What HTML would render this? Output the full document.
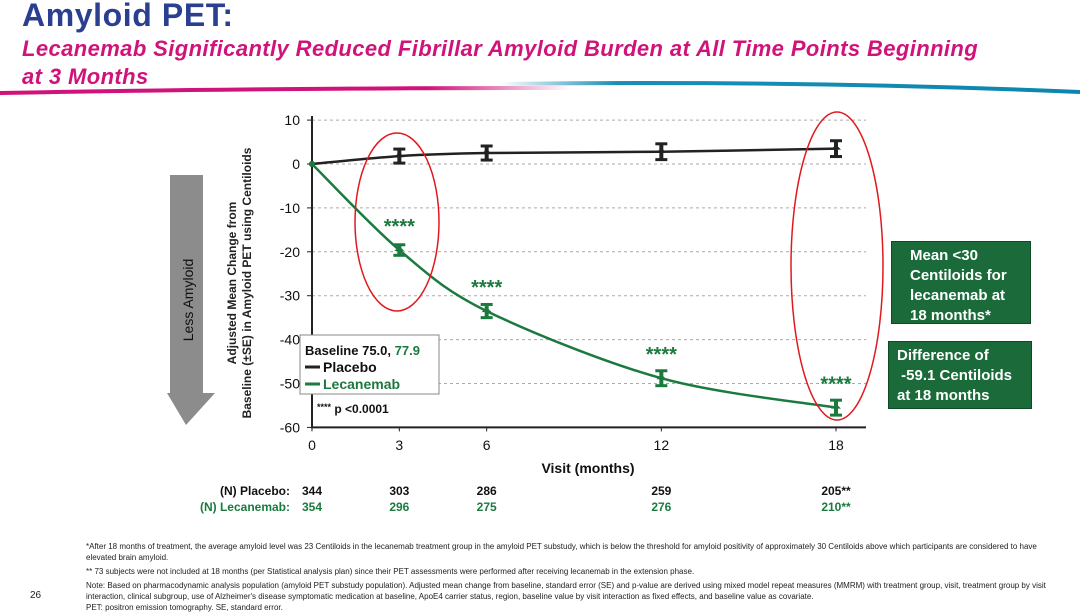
<!DOCTYPE html>
<html><head><meta charset="utf-8">
<style>
html,body{margin:0;padding:0;background:#fff;}
body{width:1080px;height:613px;position:relative;overflow:hidden;font-family:"Liberation Sans",Arial,sans-serif;}
.abs{position:absolute;}
.title{left:22px;top:-3px;font-size:32px;font-weight:bold;color:#2a3f8f;letter-spacing:0.6px;}
.sub{left:22px;top:35px;font-size:22px;font-weight:bold;font-style:italic;color:#d0137a;line-height:28px;letter-spacing:0.4px;white-space:nowrap;}
.box{background:#1b6b3a;color:#fff;font-weight:bold;font-size:15px;line-height:20px;border:1px solid #0f4a26;}
.foot{font-size:8px;color:#222;line-height:11px;}
</style></head><body>
<div class="abs title">Amyloid PET:</div>
<div class="abs sub">Lecanemab Significantly Reduced Fibrillar Amyloid Burden at All Time Points Beginning<br>at 3 Months</div>
<svg class="abs" style="left:0;top:0" width="1080" height="613">
<defs>
<linearGradient id="pg" x1="0" x2="1"><stop offset="0" stop-color="#d0137a"/><stop offset="0.75" stop-color="#d0137a"/><stop offset="1" stop-color="#d0137a" stop-opacity="0"/></linearGradient>
<linearGradient id="bg" x1="0" x2="1"><stop offset="0" stop-color="#1a8fb5" stop-opacity="0"/><stop offset="0.2" stop-color="#1a8fb5"/><stop offset="1" stop-color="#0a86b0"/></linearGradient>
</defs>
<path d="M0,93 Q250,88 570,88" stroke="url(#pg)" stroke-width="4" fill="none"/>
<path d="M500,84 Q800,80 1080,92" stroke="url(#bg)" stroke-width="4" fill="none"/>
<g>
<polygon points="170,175 203,175 203,393 215,393 186,425 167,393 170,393" fill="#8c8c8c"/>
<text transform="translate(193,300) rotate(-90)" text-anchor="middle" font-size="14" fill="#111">Less Amyloid</text>
</g>
<text transform="translate(236,283) rotate(-90)" text-anchor="middle" font-size="12" font-weight="bold" fill="#222"><tspan x="0" dy="0">Adjusted Mean Change from</tspan><tspan x="0" dy="15">Baseline (±SE) in Amyloid PET using Centiloids</tspan></text>
<g id="grid"></g><g id="axes"></g><g id="series"></g>
<ellipse cx="397" cy="222" rx="42" ry="89" stroke="#e0191e" stroke-width="1.5" fill="none"/>
<ellipse cx="837" cy="266" rx="46" ry="154" stroke="#e0191e" stroke-width="1.5" fill="none"/>
<g>
<rect x="300" y="335" width="139" height="59" fill="#fff" stroke="#888" stroke-width="1"/>
<text x="305" y="355" font-size="13" font-weight="bold" fill="#111">Baseline 75.0, <tspan fill="#1b7a3e">77.9</tspan></text>
<line x1="305" y1="367" x2="320" y2="367" stroke="#222" stroke-width="3"/>
<text x="323" y="372" font-size="14" font-weight="bold" fill="#111">Placebo</text>
<line x1="305" y1="384" x2="320" y2="384" stroke="#1b7a3e" stroke-width="3"/>
<text x="323" y="389" font-size="14" font-weight="bold" fill="#1b7a3e">Lecanemab</text>
</g>
<text x="317" y="413" font-size="12" font-weight="bold" fill="#111"><tspan font-size="9" dy="-3">****</tspan><tspan dy="3"> p &lt;0.0001</tspan></text>
<text x="588" y="473" text-anchor="middle" font-size="14" font-weight="bold" fill="#111">Visit (months)</text>
<g id="ntable" font-size="12" font-weight="bold"></g>
</svg>
<div class="abs box" style="left:891px;top:241px;width:120px;height:71px;padding:4px 0 6px 18px;">Mean &lt;30<br>Centiloids for<br>lecanemab at<br>18 months*</div>
<div class="abs box" style="left:888px;top:341px;width:134px;height:58px;padding:4px 0 4px 8px;">Difference of<br>&nbsp;-59.1 Centiloids<br>at 18 months</div>
<div class="abs foot" style="left:86px;top:541px;width:960px;">
*After 18 months of treatment, the average amyloid level was 23 Centiloids in the lecanemab treatment group in the amyloid PET substudy, which is below the threshold for amyloid positivity of approximately 30 Centiloids above which participants are considered to have elevated brain amyloid.<br>
<div style="margin-top:3px">** 73 subjects were not included at 18 months (per Statistical analysis plan) since their PET assessments were performed after receiving lecanemab in the extension phase.</div>
<div style="margin-top:3px">Note: Based on pharmacodynamic analysis population (amyloid PET substudy population). Adjusted mean change from baseline, standard error (SE) and p-value are derived using mixed model repeat measures (MMRM) with treatment group, visit, treatment group by visit interaction, clinical subgroup, use of Alzheimer's disease symptomatic medication at baseline, ApoE4 carrier status, region, baseline value by visit interaction as fixed effects, and baseline value as covariate.<br>PET: positron emission tomography. SE, standard error.</div>
</div>
<div class="abs" style="left:30px;top:590px;font-size:10px;color:#222">26</div>
<script>
const months=[0,3,6,12,18];
const placebo=[0,1.8,2.5,2.8,3.5];
const lecanemab=[0,-19.6,-33.5,-48.8,-55.5];
const placeboSE=[0,1.6,1.6,1.8,1.8];
const lecanemabSE=[0,1.2,1.5,1.7,1.7];
const yTicks=[10,0,-10,-20,-30,-40,-50,-60];
const nPlacebo=["344","303","286","259","205"];
const nLecanemab=["354","296","275","276","210"];
const NS="http://www.w3.org/2000/svg";
const X=m=>312+m*(524/18);
const Y=v=>164-v*4.39;
function mk(t,a,p){const e=document.createElementNS(NS,t);for(const k in a)e.setAttribute(k,a[k]);(p||document.getElementById('series')).appendChild(e);return e;}
const grid=document.getElementById('grid'),axes=document.getElementById('axes');
yTicks.forEach(v=>{
 if(v>-60){const g=mk('line',{x1:312,x2:866,y1:Y(v),y2:Y(v),stroke:'#aaa','stroke-dasharray':'3,3'},grid);
 
 }
 mk('line',{x1:307,x2:312,y1:Y(v),y2:Y(v),stroke:'#222'},axes);
 const t=mk('text',{x:300,y:Y(v)+5,'text-anchor':'end','font-size':14,fill:'#111'},axes);t.textContent=v;
 
 
});
mk('line',{x1:312,x2:312,y1:116,y2:Y(-60),stroke:'#222','stroke-width':2},axes);
mk('line',{x1:311,x2:866,y1:Y(-60),y2:Y(-60),stroke:'#222','stroke-width':2},axes);
months.forEach((m,i)=>{
 mk('line',{x1:X(m),x2:X(m),y1:Y(-60),y2:Y(-60)+4,stroke:'#222'},axes);
 const t=mk('text',{x:X(m),y:450,'text-anchor':'middle','font-size':14,fill:'#111'},axes);t.textContent=m;
 
 
});
function smooth(pts){
 let d='M'+pts[0][0]+','+pts[0][1];
 for(let i=0;i<pts.length-1;i++){
  const p0=pts[Math.max(i-1,0)],p1=pts[i],p2=pts[i+1],p3=pts[Math.min(i+2,pts.length-1)];
  const t=0.16;
  const c1=[p1[0]+(p2[0]-p0[0])*t,p1[1]+(p2[1]-p0[1])*t];
  const c2=[p2[0]-(p3[0]-p1[0])*t,p2[1]-(p3[1]-p1[1])*t];
  d+=` C${c1[0]},${c1[1]} ${c2[0]},${c2[1]} ${p2[0]},${p2[1]}`;
 }
 return d;
}
function series(vals,se,col,name){
 const pts=vals.map((v,i)=>[X(months[i]),Y(v)]);
 const p=mk('path',{d:smooth(pts),stroke:col,'stroke-width':2.5,fill:'none'});
 
 
 vals.forEach((v,i)=>{
  if(i===0){mk('circle',{cx:X(0),cy:Y(v),r:3,fill:col});return;}
  const x=X(months[i]),y1=Y(v+se[i]),y2=Y(v-se[i]);
  const g=mk('g',{});
  
  
  mk('line',{x1:x,x2:x,y1:y1,y2:y2,stroke:col,'stroke-width':4},g);
  mk('line',{x1:x-6,x2:x+6,y1:y1,y2:y1,stroke:col,'stroke-width':3},g);
  mk('line',{x1:x-6,x2:x+6,y1:y2,y2:y2,stroke:col,'stroke-width':3},g);
  mk('polygon',{points:`${x-5},${Y(v)+1} ${x+5},${Y(v)+1} ${x},${Y(v)-4}`,fill:col},g);
 });
}
series(placebo,placeboSE,'#222','placebo');
series(lecanemab,lecanemabSE,'#1b7a3e','lecanemab');
months.forEach((m,i)=>{if(i===0)return;
 const t=mk('text',{x:X(m),y:Y(lecanemab[i])-17,'text-anchor':'middle','font-size':20,'font-weight':'bold',fill:'#1b7a3e'});
 t.textContent='****';
 
 
});
const nt=document.getElementById('ntable');
let a=mk('text',{x:290,y:495,'text-anchor':'end',fill:'#111'},nt);a.textContent='(N) Placebo:';
a=mk('text',{x:290,y:511,'text-anchor':'end',fill:'#1b7a3e'},nt);a.textContent='(N) Lecanemab:';
months.forEach((m,i)=>{
 const t1=mk('text',{x:X(m),y:495,'text-anchor':'middle',fill:'#111'},nt);t1.textContent=nPlacebo[i]+(i==4?'**':'');
 
 
 const t2=mk('text',{x:X(m),y:511,'text-anchor':'middle',fill:'#1b7a3e'},nt);t2.textContent=nLecanemab[i]+(i==4?'**':'');
 
 
});
</script>
</body></html>
